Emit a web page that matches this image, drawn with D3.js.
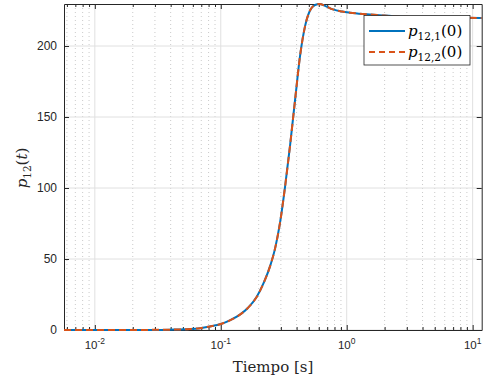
<!DOCTYPE html>
<html>
<head>
<meta charset="utf-8">
<script src="https://cdn.jsdelivr.net/npm/d3@7"></script>
<style>
  html, body { margin: 0; padding: 0; background: #fff; }
  svg { display: block; }
</style>
</head>
<body>
<svg id="chart" width="483" height="380"></svg>
<script>
// Time samples [s] and p12(t) response for both initial conditions
const tiempo = [0.00569, 0.0158, 0.0274, 0.0395, 0.0569, 0.0684, 0.082, 0.1, 0.118, 0.142,
  0.164, 0.192, 0.220, 0.2464, 0.27, 0.296, 0.324, 0.355, 0.389, 0.426, 0.467, 0.511,
  0.560, 0.608, 0.673, 0.778, 0.918, 1.062, 1.44, 1.94, 2.65, 4.58, 11.8];
const p12_1 = [0, 0.02, 0.08, 0.25, 0.7, 1.3, 2.5, 4.2, 6.8, 10.8,
  15.5, 23, 33.5, 45, 57.5, 76, 101, 130, 162, 193, 214, 225,
  228.9, 229.6, 228.3, 225.8, 224.3, 223.5, 222.4, 221.5, 220.7, 220.1, 219.8];
const p12_2 = [0, 0.02, 0.08, 0.25, 0.7, 1.3, 2.5, 4.2, 6.8, 10.8,
  15.5, 23, 33.5, 45, 57.5, 76, 101, 130, 162, 193, 214, 225,
  228.9, 229.6, 228.3, 225.8, 224.3, 223.5, 222.4, 221.5, 220.7, 220.1, 219.8];
const xTicks = [0.01, 0.1, 1, 10];
const xTickExp = ["-2", "-1", "0", "1"];
const yTicks = [0, 50, 100, 150, 200];
const seriesNames = [["12,1", "(0)"], ["12,2", "(0)"]];

(function draw() {
  const svg = d3.select("#chart");
  const L = 64, R = 481.7, T = 4, B = 330;
  const axisColor = "#262626";

  const x = d3.scaleLog().domain([0.00569, 11.8]).range([L, R]);
  const y = d3.scaleLinear().domain([0, 229.6]).range([B, T]);

  // minor x positions (2..9 per decade)
  const minor = [];
  for (let e = -3; e <= 1; e++) {
    for (let k = 2; k <= 9; k++) {
      const v = k * Math.pow(10, e);
      if (v > x.domain()[0] && v < x.domain()[1]) minor.push(v);
    }
  }

  const grid = svg.append("g");
  grid.selectAll("line.minor").data(minor).join("line").attr("class", "minor")
    .attr("x1", d => x(d)).attr("x2", d => x(d)).attr("y1", T).attr("y2", B)
    .attr("stroke", "#bdbdbd").attr("stroke-width", 0.8).attr("stroke-dasharray", "1,3");
  grid.selectAll("line.mx").data(xTicks).join("line").attr("class", "mx")
    .attr("x1", d => x(d)).attr("x2", d => x(d)).attr("y1", T).attr("y2", B)
    .attr("stroke", "#e0e0e0").attr("stroke-width", 1);
  grid.selectAll("line.my").data(yTicks).join("line").attr("class", "my")
    .attr("x1", L).attr("x2", R).attr("y1", d => y(d)).attr("y2", d => y(d))
    .attr("stroke", "#e0e0e0").attr("stroke-width", 1);

  // axes with inward ticks
  const gBottom = svg.append("g").attr("transform", `translate(0,${B})`)
    .call(d3.axisBottom(x).tickValues(xTicks).tickSizeInner(-5).tickSizeOuter(0).tickFormat(""));
  const gTop = svg.append("g").attr("transform", `translate(0,${T})`)
    .call(d3.axisTop(x).tickValues(xTicks).tickSizeInner(-5).tickSizeOuter(0).tickFormat(""));
  const gLeft = svg.append("g").attr("transform", `translate(${L},0)`)
    .call(d3.axisLeft(y).tickValues(yTicks).tickSizeInner(-5).tickSizeOuter(0).tickFormat(""));
  const gRight = svg.append("g").attr("transform", `translate(${R},0)`)
    .call(d3.axisRight(y).tickValues(yTicks).tickSizeInner(-5).tickSizeOuter(0).tickFormat(""));
  const gBMinor = svg.append("g").attr("transform", `translate(0,${B})`)
    .call(d3.axisBottom(x).tickValues(minor).tickSizeInner(-3).tickSizeOuter(0).tickFormat(""));
  const gTMinor = svg.append("g").attr("transform", `translate(0,${T})`)
    .call(d3.axisTop(x).tickValues(minor).tickSizeInner(-3).tickSizeOuter(0).tickFormat(""));
  [gBottom, gTop, gLeft, gRight, gBMinor, gTMinor].forEach(g => {
    g.select(".domain").attr("stroke", axisColor).attr("stroke-width", 1);
    g.selectAll(".tick line").attr("stroke", axisColor).attr("stroke-width", 1);
  });
  [gBMinor, gTMinor].forEach(g => g.select(".domain").remove());

  // y tick labels
  svg.append("g").selectAll("text").data(yTicks).join("text")
    .attr("x", L - 7).attr("y", d => y(d)).attr("dy", "0.35em")
    .attr("text-anchor", "end")
    .attr("font-family", "Liberation Sans, Arial, sans-serif").attr("font-size", 12)
    .attr("fill", axisColor).text(d => d);

  // x tick labels 10^n
  const xl = svg.append("g").selectAll("text").data(xTicks).join("text")
    .attr("x", d => x(d)).attr("y", 349)
    .attr("text-anchor", "middle")
    .attr("font-family", "Liberation Sans, Arial, sans-serif").attr("font-size", 11.5)
    .attr("fill", axisColor);
  xl.append("tspan").text("10");
  xl.append("tspan").attr("dy", -5).attr("font-size", 8.5).text((d, i) => xTickExp[i]);

  // curves
  const line = d3.line().x((d, i) => x(tiempo[i])).y(d => y(d)).curve(d3.curveMonotoneX);
  const plot = svg.append("g");
  plot.append("path").datum(p12_1).attr("d", line)
    .attr("fill", "none").attr("stroke", "#0072BD").attr("stroke-width", 2);
  plot.append("path").datum(p12_2).attr("d", line)
    .attr("fill", "none").attr("stroke", "#D95319").attr("stroke-width", 2)
    .attr("stroke-dasharray", "7,4");

  // axis labels
  svg.append("text").attr("x", 273).attr("y", 372).attr("text-anchor", "middle")
    .attr("font-family", "DejaVu Serif, serif").attr("font-size", 15)
    .attr("fill", axisColor).text("Tiempo [s]");

  const yl = svg.append("text").attr("transform", "translate(27,168) rotate(-90)")
    .attr("text-anchor", "middle")
    .attr("font-family", "DejaVu Serif, serif").attr("font-size", 15).attr("fill", axisColor);
  yl.append("tspan").attr("font-style", "italic").text("p");
  yl.append("tspan").attr("dy", 4).attr("font-size", 10.5).text("12");
  yl.append("tspan").attr("dy", -4).text("(");
  yl.append("tspan").attr("font-style", "italic").text("t");
  yl.append("tspan").text(")");

  // legend
  const leg = svg.append("g");
  leg.append("rect").attr("x", 364).attr("y", 15.5).attr("width", 106).attr("height", 49.5)
    .attr("fill", "#fff").attr("stroke", axisColor).attr("stroke-width", 0.8);
  const colors = ["#0072BD", "#D95319"];
  const dashes = [null, "6,4"];
  seriesNames.forEach((s, i) => {
    const cy = 31 + i * 21;
    leg.append("line").attr("x1", 369).attr("x2", 405).attr("y1", cy).attr("y2", cy)
      .attr("stroke", colors[i]).attr("stroke-width", 2).attr("stroke-dasharray", dashes[i]);
    const t = leg.append("text").attr("x", 408).attr("y", cy + 5)
      .attr("font-family", "DejaVu Serif, serif").attr("font-size", 15).attr("fill", "#000");
    t.append("tspan").attr("font-style", "italic").text("p");
    t.append("tspan").attr("dy", 4).attr("font-size", 10.5).text(s[0]);
    t.append("tspan").attr("dy", -4).text(s[1]);
  });
})();
</script>
</body>
</html>
